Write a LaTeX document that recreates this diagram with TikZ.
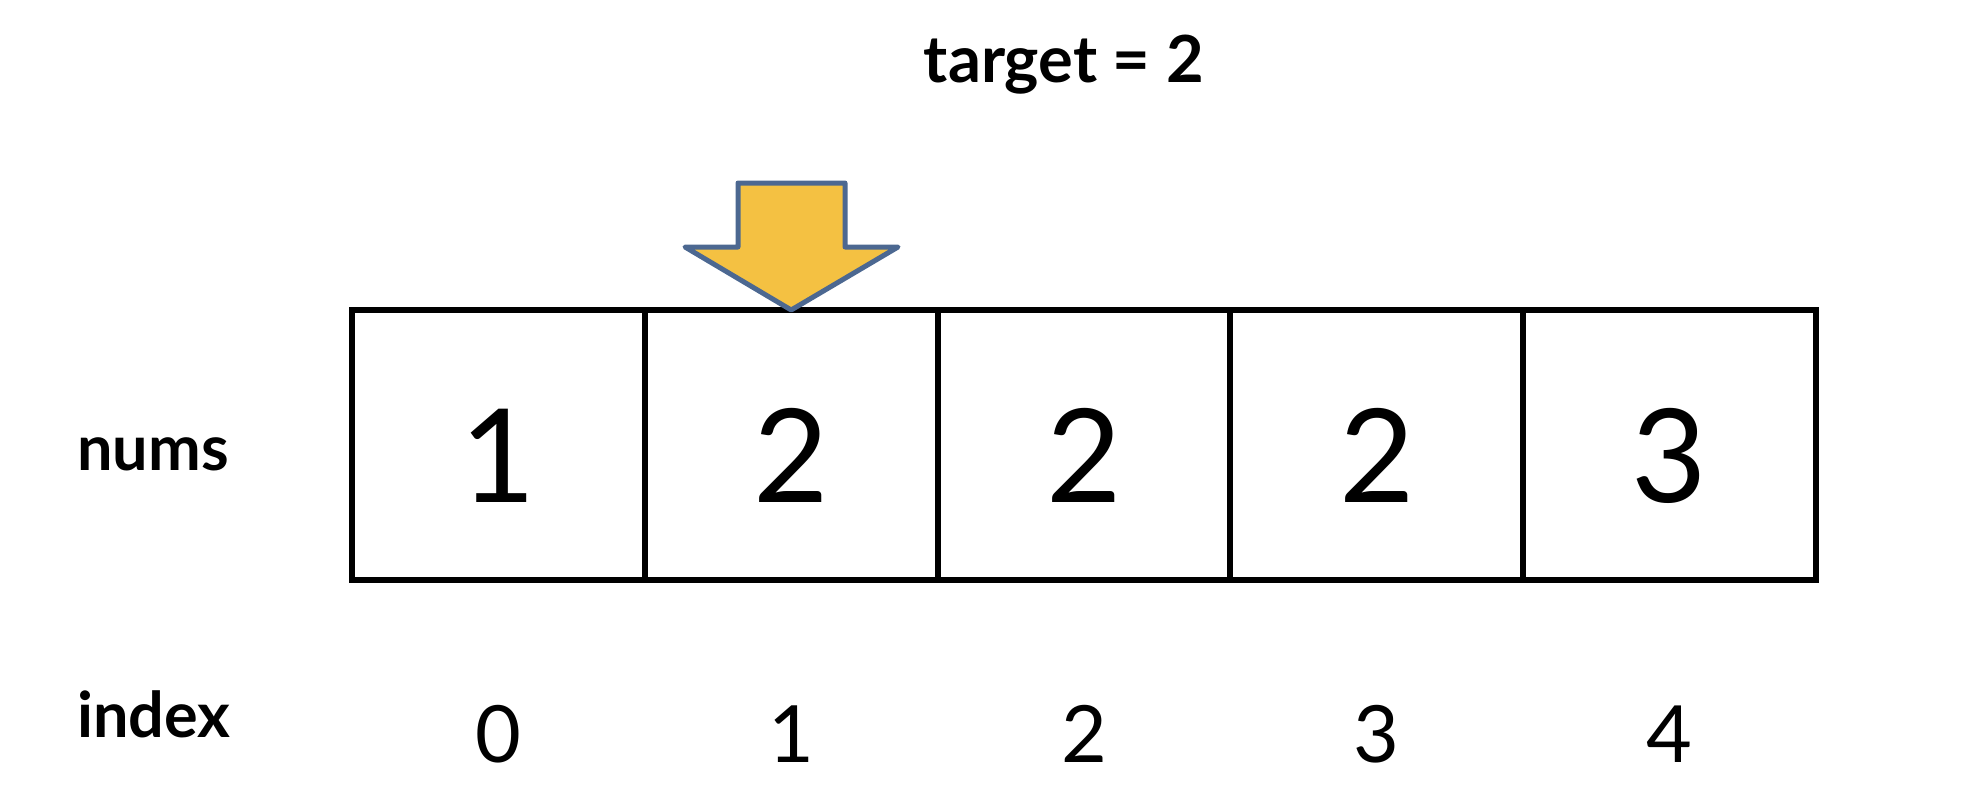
\documentclass[tikz,border=0pt]{standalone}
\usepackage{fontspec}
\setmainfont{Lato}
\definecolor{arrowfill}{RGB}{244,193,66}
\definecolor{arrowline}{RGB}{76,104,145}
\tikzset{
  cell/.style={draw=black, line width=6pt, minimum width=292.8pt, minimum height=270pt,
    inner sep=0pt, outer sep=0pt, text height=114pt, text depth=0pt,
    font=\fontsize{130}{130}\selectfont},
  idx/.style={anchor=base, inner sep=0pt, font=\fontsize{79}{79}\selectfont},
  lbl/.style={anchor=base west, inner sep=0pt, font=\bfseries\fontsize{63}{63}\selectfont},
  ptr/.style={fill=arrowfill, draw=arrowline, line width=5pt, line join=round}
}
\begin{document}
\begin{tikzpicture}[x=1pt,y=-1pt]
\useasboundingbox (0,0) rectangle (1982,792);
\node[anchor=base, inner sep=0pt, font=\bfseries\fontsize{65}{65}\selectfont] (title) at (1064,82) {target = 2};
\foreach \v [count=\i from 0] in {1,2,2,2,3} {
  \node[cell] (c\i) at (498.4+\i*292.8,445) {\v};
  \node[idx] (i\i) at (498.4+\i*292.8,762) {\i};
}
\node[lbl] (nums) at (77,470) {nums};
\node[lbl] (index) at (77,737) {index};
\draw[ptr] (738,183) -- (845,183) -- (845,247) -- (898,247) -- (c1.north) -- (685,247) -- (738,247) -- cycle;
\end{tikzpicture}
\end{document}
